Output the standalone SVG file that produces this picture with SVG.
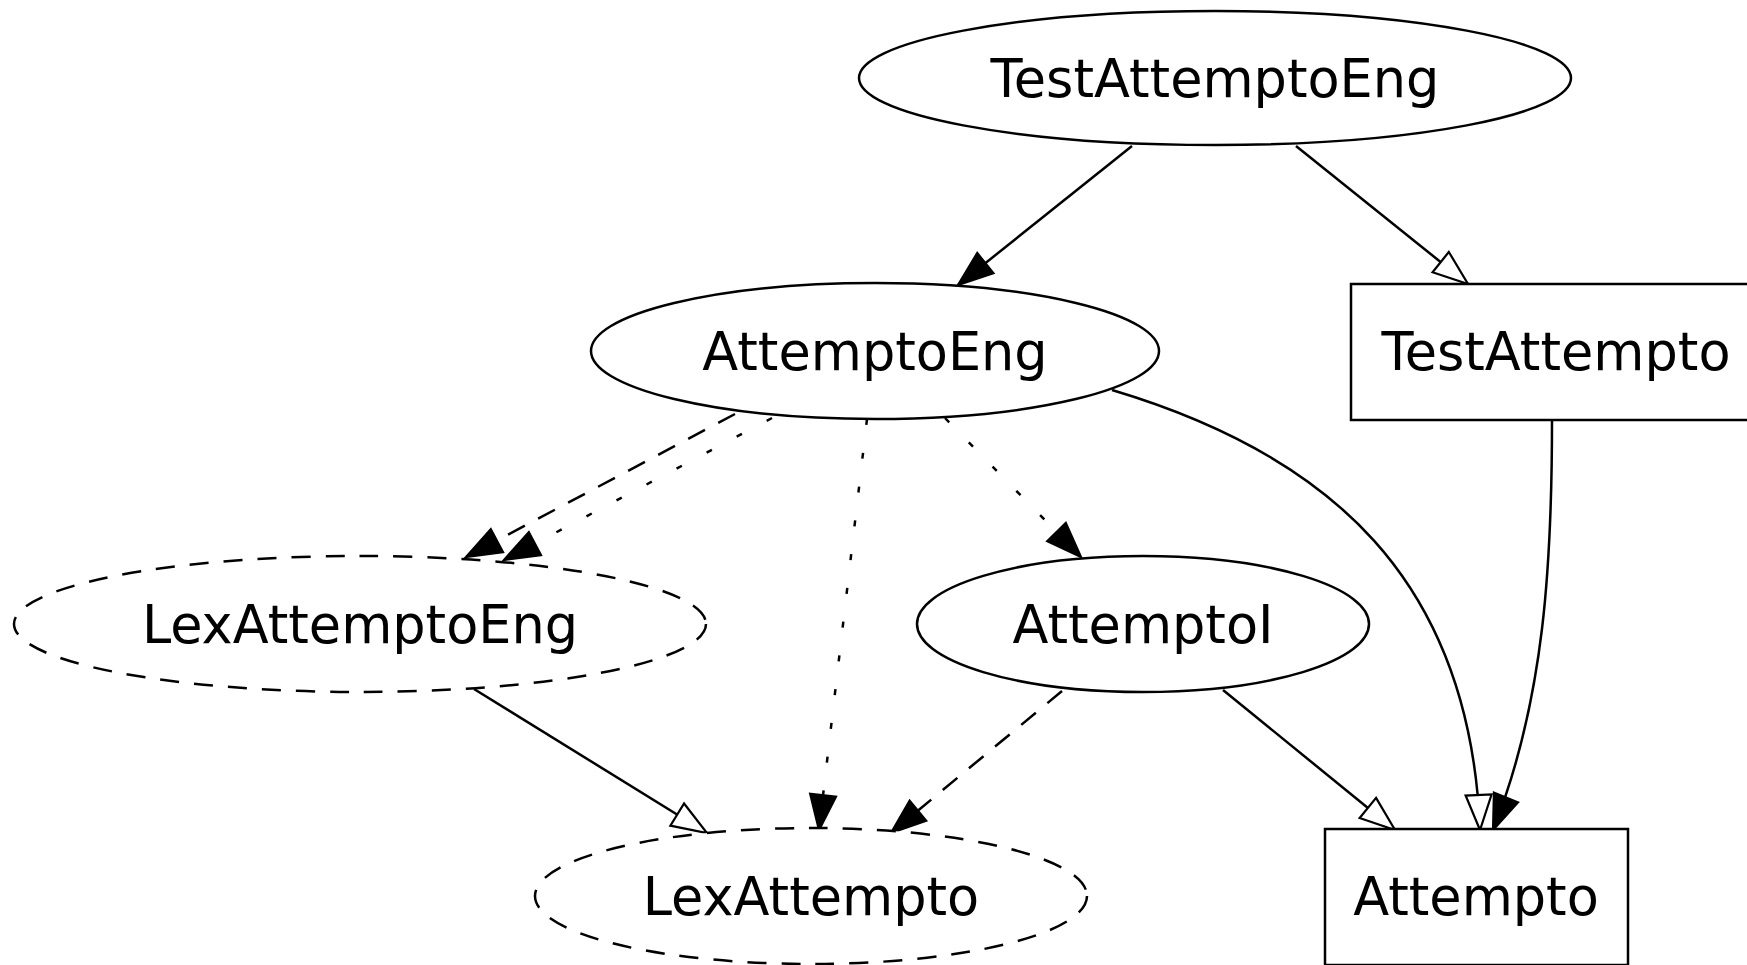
<svg xmlns="http://www.w3.org/2000/svg" width="1747" height="965" viewBox="0 0 1747 965">
<style>
.shape{fill:#fff;stroke:#000;stroke-width:2.5}
.dash{stroke-dasharray:19,15}
.lbl{font-family:"DejaVu Sans",sans-serif;font-size:52.5px;text-anchor:middle;fill:#000}
.e{fill:none;stroke:#000;stroke-width:2.5}
.ed{stroke-dasharray:19,15}
.eo{stroke-dasharray:6,28}
.f{marker-end:url(#filled)}
.h{marker-end:url(#hollow)}
</style>
<defs>
<marker id="filled" markerUnits="userSpaceOnUse" viewBox="-2 -2 40 30" markerWidth="40" markerHeight="30" refX="35" refY="13" orient="auto">
<path d="M0,0 L35,13 L0,26 Z" fill="#000" stroke="#000" stroke-width="2.2" stroke-dasharray="none"/>
</marker>
<marker id="hollow" markerUnits="userSpaceOnUse" viewBox="-2 -2 40 30" markerWidth="40" markerHeight="30" refX="35" refY="13" orient="auto">
<path d="M0,0 L35,13 L0,26 Z" fill="#fff" stroke="#000" stroke-width="2.2" stroke-dasharray="none"/>
</marker>
</defs>
<rect width="1747" height="965" fill="#fff"/>
<g id="edges">
<path class="e f" d="M1132,146 L958,285"/>
<path class="e h" d="M1296,146 L1468,284"/>
<path class="e ed f" d="M735,414 L466,557"/>
<path class="e eo f" d="M772,418 L504,560"/>
<path class="e eo f" d="M867,419 L819,830"/>
<path class="e eo f" d="M945,418 L1081,557"/>
<path class="e h" d="M1112,390 C1330,455 1470,580 1480,830"/>
<path class="e f" d="M1552,420 C1552,560 1545,700 1493,830"/>
<path class="e h" d="M474,689 L707,833"/>
<path class="e ed f" d="M1062,691 L891,833"/>
<path class="e h" d="M1223,690 L1395,830"/>
</g>
<g id="TestAttemptoEng">
<ellipse class="shape" cx="1215" cy="78" rx="356" ry="67"/>
<text class="lbl" x="1215" y="97">TestAttemptoEng</text>
</g>
<g id="AttemptoEng">
<ellipse class="shape" cx="875" cy="351" rx="284" ry="68"/>
<text class="lbl" x="875" y="370">AttemptoEng</text>
</g>
<g id="TestAttempto">
<rect class="shape" x="1351" y="284" width="412" height="136"/>
<text class="lbl" x="1556" y="370">TestAttempto</text>
</g>
<g id="LexAttemptoEng">
<ellipse class="shape dash" cx="360" cy="624" rx="346" ry="68"/>
<text class="lbl" x="360" y="643">LexAttemptoEng</text>
</g>
<g id="AttemptoI">
<ellipse class="shape" cx="1143" cy="624" rx="226" ry="68"/>
<text class="lbl" x="1143" y="643">AttemptoI</text>
</g>
<g id="LexAttempto">
<ellipse class="shape dash" cx="811" cy="896" rx="276" ry="68"/>
<text class="lbl" x="811" y="915">LexAttempto</text>
</g>
<g id="Attempto">
<rect class="shape" x="1325" y="829" width="303" height="136"/>
<text class="lbl" x="1476" y="915">Attempto</text>
</g>
</svg>
